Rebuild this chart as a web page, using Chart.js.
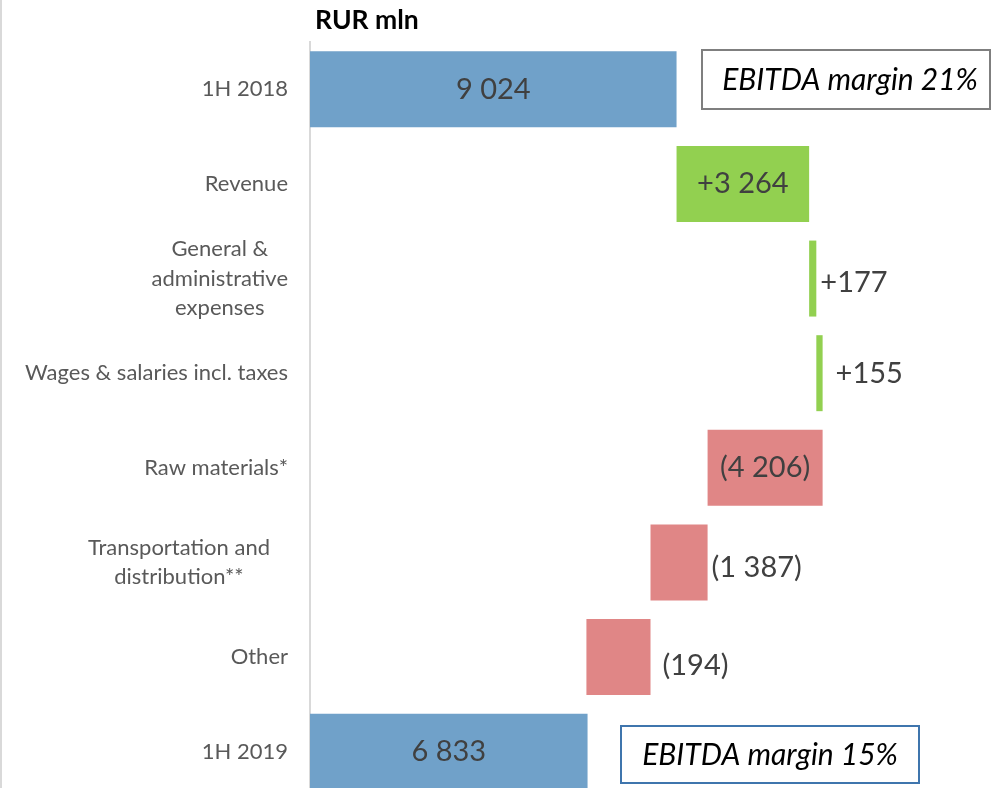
<!DOCTYPE html>
<html>
<head>
<meta charset="utf-8">
<script src="https://cdn.jsdelivr.net/npm/chart.js@4/dist/chart.umd.min.js"></script>
<style>
  html, body { margin: 0; padding: 0; background: #fff; overflow: hidden; width: 992px; height: 788px; }
  #wrap { position: relative; width: 992px; height: 800px; }
</style>
</head>
<body>
<div id="wrap"><canvas id="c" width="992" height="800"></canvas></div>
<script>
// ---- data ----
const categories = ['1H 2018', 'Revenue', ['General &', 'administrative', 'expenses'], 'Wages & salaries incl. taxes', 'Raw materials*', ['Transportation and', 'distribution**'], 'Other', '1H 2019'];
const barStart = [0, 9024, 12288, 12465, 9788, 8383, 6805, 0];
const barEnd   = [9024, 12288, 12465, 12620, 12620, 9788, 8383, 6833];
const valueLabels = ['9 024', '+3 264', '+177', '+155', '(4 206)', '(1 387)', '(194)', '6 833'];
const barKind = ['total', 'up', 'up', 'up', 'down', 'down', 'down', 'total'];
const marginNotes = ['EBITDA margin 21%', 'EBITDA margin 15%'];
const unitTitle = 'RUR mln';

// ---- styles ----
const kindColor = { total: '#70A1C9', up: '#92D050', down: '#E08686' };
const labelInside = [true, true, false, false, true, false, false, true];
const labelDx = [0, 0, 4, 13, 0, 4, 12, 0];
const labelDy = [0, 0, 4, 0, 0, 5, 9, 0];
const catShift = [0, 0, 0, 0, 0, -18, 0, 0];

const overlay = {
  id: 'overlay',
  afterDatasetsDraw(chart) {
    const ctx = chart.ctx;
    const meta = chart.getDatasetMeta(0);
    const yScale = chart.scales.y;
    ctx.save();
    // left border
    ctx.fillStyle = '#D9D9D9';
    ctx.fillRect(0, 0, 2, 800);
    // title
    ctx.fillStyle = '#000';
    ctx.font = 'bold 26.5px Lato';
    ctx.textAlign = 'left';
    ctx.textBaseline = 'alphabetic';
    ctx.fillText(unitTitle, 315, 29);
    // category labels
    ctx.fillStyle = '#595959';
    ctx.font = '22px Lato';
    ctx.textBaseline = 'middle';
    categories.forEach((c, i) => {
      const lines = Array.isArray(c) ? c : [c];
      const y0 = yScale.getPixelForTick(i);
      const lh = 29.5;
      let maxW = 0;
      lines.forEach(l => { maxW = Math.max(maxW, ctx.measureText(l).width); });
      const cx = 288 - maxW / 2 + catShift[i];
      ctx.textAlign = 'center';
      lines.forEach((l, k) => {
        const y = y0 + (k - (lines.length - 1) / 2) * lh;
        ctx.fillText(l, cx, y);
      });
    });
    // value labels
    ctx.fillStyle = '#404040';
    ctx.font = '29px Lato';
    meta.data.forEach((bar, i) => {
      const p = bar.getProps(['x', 'y', 'base'], true);
      const right = Math.max(p.x, p.base);
      const left = Math.min(p.x, p.base);
      if (labelInside[i]) {
        ctx.textAlign = 'center';
        ctx.fillText(valueLabels[i], (left + right) / 2, p.y + labelDy[i]);
      } else {
        ctx.textAlign = 'left';
        ctx.fillText(valueLabels[i], right + labelDx[i], p.y + labelDy[i]);
      }
    });
    // EBITDA boxes
    ctx.lineWidth = 2;
    ctx.fillStyle = '#fff';
    ctx.strokeStyle = '#7F7F7F';
    ctx.fillRect(702, 50, 288, 59);
    ctx.strokeRect(702, 50, 288, 59);
    ctx.strokeStyle = '#3F75AD';
    ctx.fillRect(621, 726, 298, 57);
    ctx.strokeRect(621, 726, 298, 57);
    ctx.fillStyle = '#000';
    ctx.font = 'italic 30px Lato';
    ctx.textAlign = 'center';
    ctx.fillText(marginNotes[0], 850, 80);
    ctx.fillText(marginNotes[1], 770, 755);
    ctx.restore();
  }
};

new Chart(document.getElementById('c'), {
  type: 'bar',
  data: {
    labels: categories,
    datasets: [{
      data: barStart.map((s, i) => [s, barEnd[i]]),
      backgroundColor: barKind.map(k => kindColor[k]),
      borderWidth: 0,
      barPercentage: 1,
      categoryPercentage: 0.803
    }]
  },
  options: {
    indexAxis: 'y',
    responsive: false,
    animation: false,
    layout: { padding: { left: 310, top: 42, right: 0, bottom: 1 } },
    plugins: { legend: { display: false }, tooltip: { enabled: false } },
    scales: {
      x: { display: false, min: 0, max: 16790 },
      y: {
        display: true,
        ticks: { display: false },
        grid: { display: false, drawTicks: false },
        border: { display: true, color: '#D9D9D9', width: 2 }
      }
    }
  },
  plugins: [overlay]
});
</script>
</body>
</html>
